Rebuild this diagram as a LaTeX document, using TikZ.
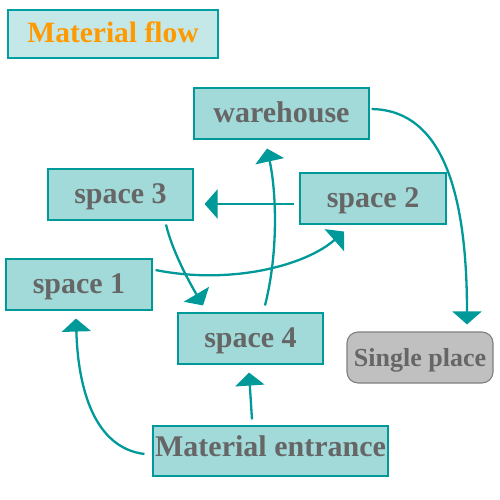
\documentclass[tikz,border=0pt]{standalone}
\usepackage{fontspec}
\setmainfont{Liberation Serif}
\usetikzlibrary{arrows.meta,calc}
\definecolor{boxfill}{HTML}{A2DADA}
\definecolor{teal1}{HTML}{009999}
\definecolor{titlefill}{HTML}{C4E8E8}
\definecolor{titleline}{HTML}{00A0A0}
\definecolor{orangetxt}{HTML}{FF9900}
\definecolor{graytxt}{HTML}{666666}
\definecolor{greyfill}{HTML}{C0C0C0}
\definecolor{greyline}{HTML}{808080}
\tikzset{
  sbox/.style={draw=teal1, line width=1.1pt, fill=boxfill, text=graytxt,
    font=\fontsize{30}{30}\selectfont\bfseries, inner sep=0pt,
    text height=21.5pt, text depth=3.5pt,
    minimum height=51pt},
  flow/.style={draw=teal1, line width=2.3pt, -{Triangle[length=13pt,width=29pt]}}
}
\begin{document}
\begin{tikzpicture}[x=1pt,y=-1pt]
\useasboundingbox (0,0) rectangle (500,500);
\fill[white] (0,0) rectangle (500,500);
\node[draw=titleline, line width=1.1pt, fill=titlefill, text=orangetxt,
  font=\fontsize{29.5}{29.5}\selectfont\bfseries, inner sep=0pt,
  text height=21.5pt, text depth=3.5pt,
  minimum width=210pt, minimum height=48pt] (title) at (113,34) {Material flow\hspace{8pt}};
\node[sbox, minimum width=175pt] (wh) at (281.5,113.5) {warehouse\hspace{13pt}};
\node[sbox, minimum width=146pt] (s2) at (373,198.5) {space 2};
\node[sbox, minimum width=145pt] (s3) at (120.5,194.5) {space 3\hspace{11pt}};
\node[sbox, minimum width=146pt] (s1) at (79,284.5) {space 1};
\node[sbox, minimum width=145pt] (s4) at (250.5,338.5) {space 4};
\node[draw=greyline, line width=1.1pt, fill=greyfill, text=graytxt, rounded corners=11pt,
  font=\fontsize{26}{26}\selectfont\bfseries, inner sep=0pt,
  text height=19pt, text depth=2pt,
  minimum width=146pt, minimum height=51pt] (sp) at (420,357.5) {Single place};
\node[sbox, minimum width=235pt, minimum height=50pt, text height=20pt, text depth=8.6pt] (ent) at (270.5,451) {Material entrance};
% connectors
\draw[flow] ($(wh.east)+(2,-4.5)$) .. controls (432,110) and (467,170) .. ($(sp.north)+(47,-7)$);
\draw[flow] ($(s2.west)+(-5,5.5)$) -- ($(s3.east)+(11,9.5)$);
\draw[flow] ($(s4.north)+(14.5,-7)$) .. controls (279,250) and (276,190) .. ($(wh.south)+(-14.5,9)$);
\draw[flow] ($(s3.south)+(45.5,4)$) .. controls (172,250) and (188,280) .. ($(s4.north)+(-47.5,-7)$);
\draw[flow] ($(s1.east)+(3,-14.5)$) .. controls (230,285) and (305,266) .. ($(s2.south)+(-29,7)$);
\draw[flow] ($(ent.west)+(-8,3)$) .. controls (95,448) and (78,390) .. ($(s1.south)+(-3,8)$);
\draw[flow] ($(ent.north)+(-18.5,-6)$) -- ($(s4.south)+(-1.5,8)$);
\end{tikzpicture}
\end{document}
